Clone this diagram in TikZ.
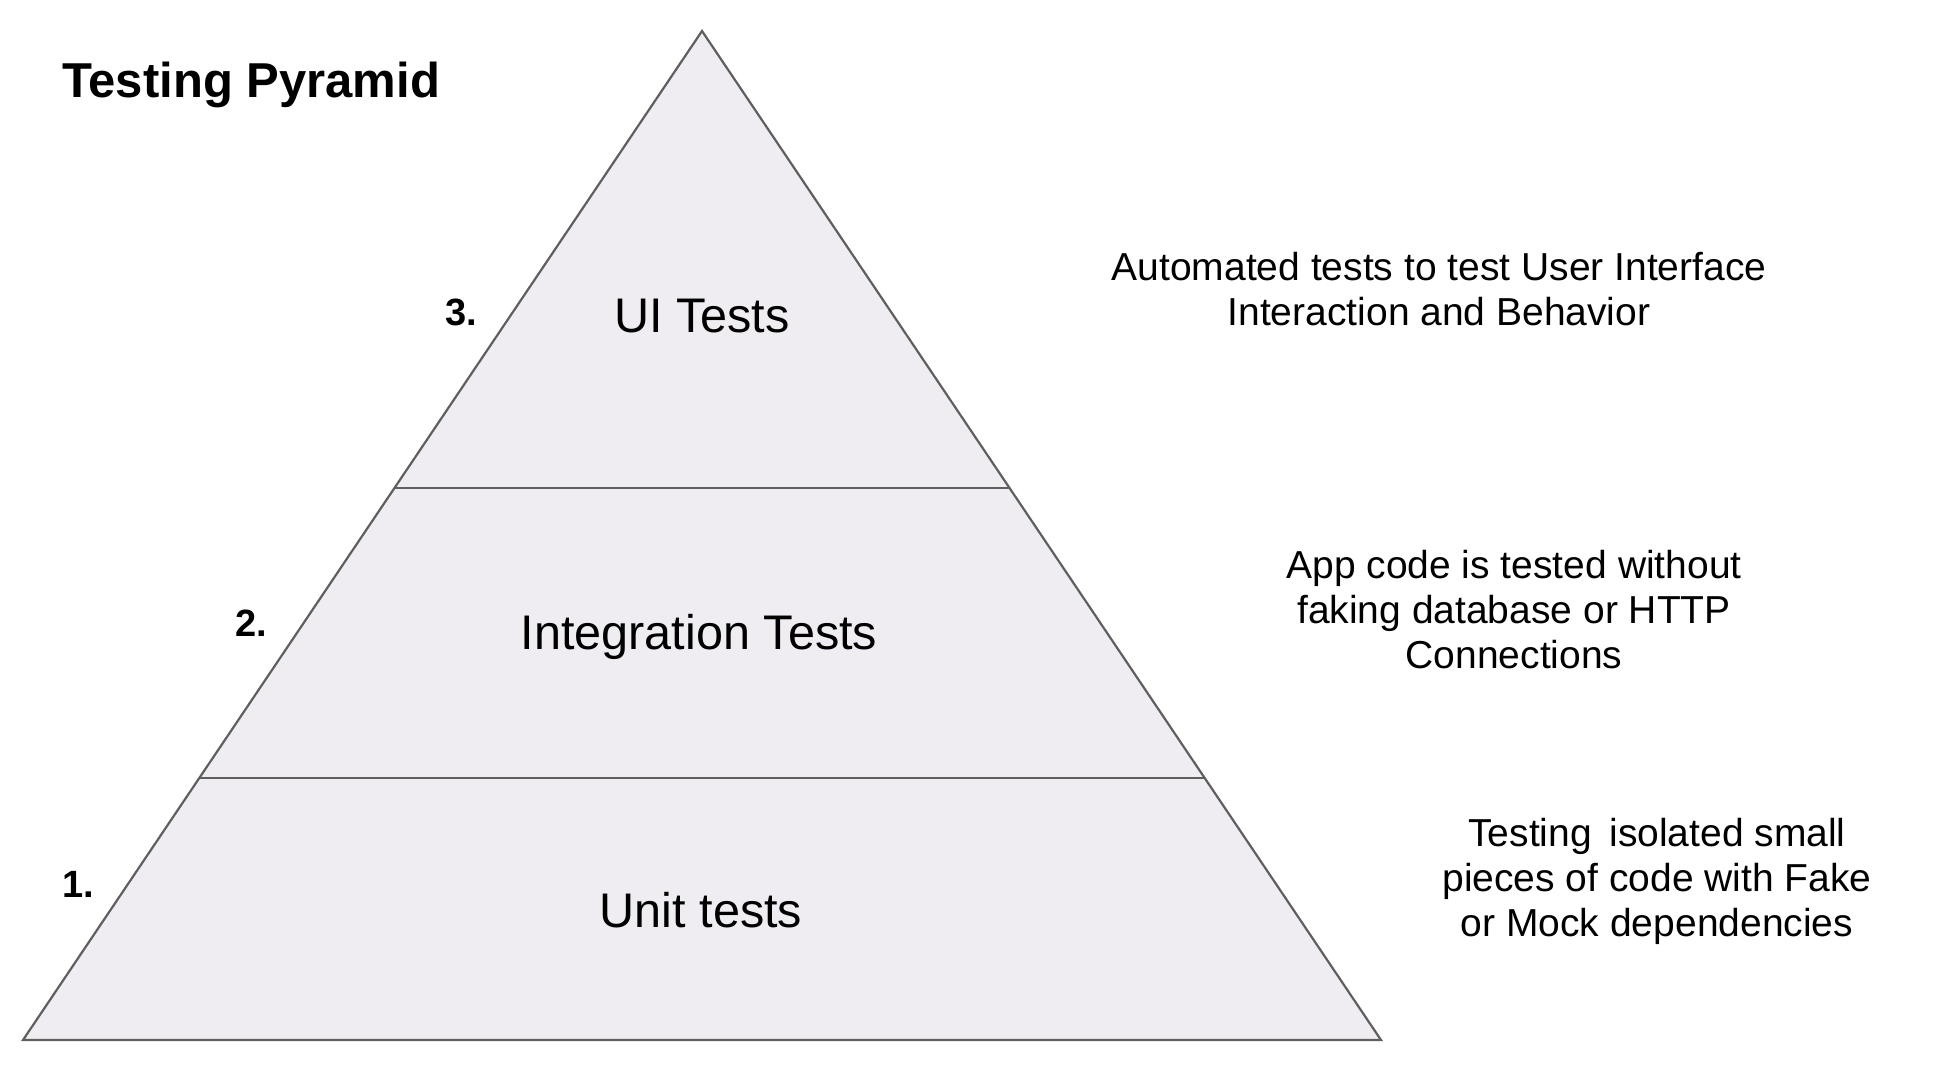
\documentclass[tikz,border=0pt]{standalone}
\usepackage{fontspec}
\setmainfont{Liberation Sans}
\usetikzlibrary{calc}

\definecolor{pyrfill}{RGB}{239,237,241}
\definecolor{pyrline}{RGB}{95,95,95}

\tikzset{
  layer/.style={font=\fontsize{24.3}{28}\selectfont, anchor=base, inner sep=0pt},
  rank/.style={font=\fontsize{19}{22}\selectfont\bfseries, anchor=base, inner sep=0pt},
  note/.style={font=\fontsize{19.5}{22.5}\selectfont, align=center, inner sep=0pt},
  edge/.style={draw=pyrline, line width=1.1pt},
}

\begin{document}
\begin{tikzpicture}[x=0.5pt, y=-0.5pt]
  \useasboundingbox (0,0) rectangle (1960,1076);
  % pyramid corners and layer borders
  \coordinate (apex) at (702,31);
  \coordinate (bl) at (23,1040);
  \coordinate (br) at (1381,1040);
  \coordinate (ui-l) at ($(apex)!0.4529!(bl)$);
  \coordinate (ui-r) at ($(apex)!0.4529!(br)$);
  \coordinate (it-l) at ($(apex)!0.7403!(bl)$);
  \coordinate (it-r) at ($(apex)!0.7403!(br)$);

  \filldraw[edge, fill=pyrfill] (apex) -- (bl) -- (br) -- cycle;
  \draw[edge] (ui-l) -- (ui-r);
  \draw[edge] (it-l) -- (it-r);

  \node[font=\fontsize{24.5}{28}\selectfont\bfseries, anchor=base west, inner sep=0pt]
    (title) at (62,97) {Testing Pyramid};

  % layers
  \node[layer] (ui) at (702,332) {UI Tests};
  \node[layer] (integ) at (699,649) {Integration Tests};
  \node[layer] (unit) at (701,927) {Unit tests};

  \node[rank] (n3) at (461,325) {3.};
  \node[rank] (n2) at (251,636) {2.};
  \node[rank] (n1) at (78,897) {1.};

  % descriptions
  \node[note] (ui-note) at (1439,289) {Automated tests to test User Interface\\Interaction and Behavior};
  \node[note] (integ-note) at (1514,610) {App code is tested without\\faking database or HTTP\\Connections};
  \node[note] (unit-note) at (1657,881) {Testing\hspace{0.45em}isolated small\\pieces of code with Fake\\or Mock dependencies};
\end{tikzpicture}
\end{document}
